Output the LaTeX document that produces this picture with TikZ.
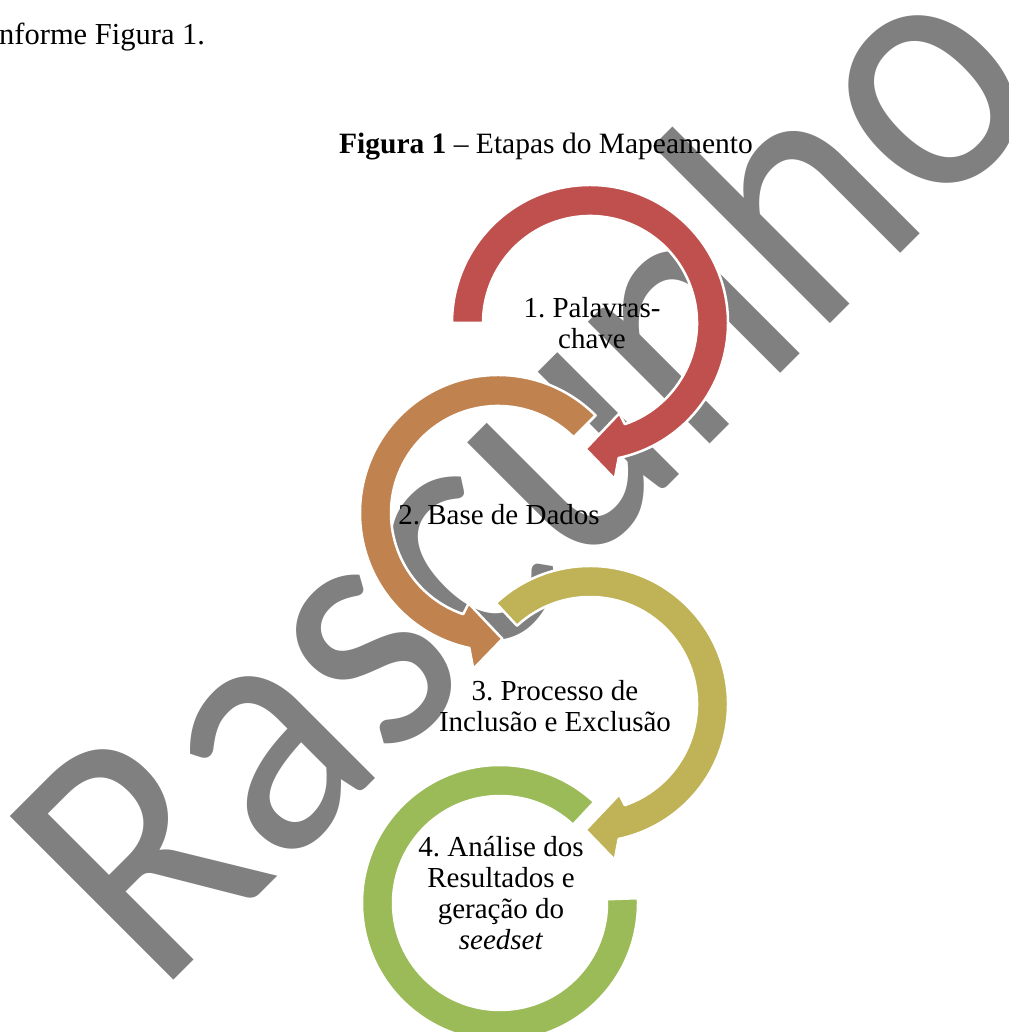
\documentclass[tikz,border=0pt]{standalone}
\usepackage{fontspec}
\setmainfont{Liberation Serif}
\newfontfamily\wmfont{Carlito}
\usetikzlibrary{calc}
\frenchspacing
\definecolor{wmgray}{RGB}{128,128,128}
\definecolor{cred}{RGB}{192,80,77}
\definecolor{corange}{RGB}{192,130,79}
\definecolor{colive}{RGB}{192,178,86}
\definecolor{cgreen}{RGB}{155,187,89}
\tikzset{
  arrowshape/.style={draw=white, line width=2.5pt, line join=round},
  wm/.style={font={\wmfont\fontsize{322pt}{322pt}\selectfont}, text=wmgray, rotate=45, yscale=1.12, anchor=base west, inner sep=0pt},
  lbl/.style={font={\fontsize{29pt}{31pt}\selectfont}, anchor=base, align=center, inner sep=0pt},
  bodytext/.style={font={\fontsize{30.5pt}{32pt}\selectfont}, anchor=base west, inner sep=0pt},
  captext/.style={font={\fontsize{29.5pt}{32pt}\selectfont}, anchor=base, inner sep=0pt}
}
% clockwise arrow: centre, start angle, colour
\newcommand\cwArrow[3]{%
  \fill[#3, arrowshape, shift={(#1)}] (#2:138pt) arc[start angle=#2, end angle=-78, radius=138pt]
    -- (-81:158pt) -- (-92:126pt) -- (-72:95pt) -- (-71:107pt)
    arc[start angle=-71, end angle=#2, radius=107pt] -- cycle;}
% counter-clockwise arrow: centre, start angle, colour
\newcommand\ccwArrow[3]{%
  \fill[#3, arrowshape, shift={(#1)}] (#2:138pt) arc[start angle=#2, end angle=258, radius=138pt]
    -- (261:158pt) -- (272:126pt) -- (252:95pt) -- (251:107pt)
    arc[start angle=251, end angle=#2, radius=107pt] -- cycle;}
\begin{document}
\begin{tikzpicture}[x=1pt,y=1pt]
\useasboundingbox (0,0) rectangle (1008,1032);
% watermark
\node[wm] (wm) at (157,35) {Rascunho};
% centres
\coordinate (c1) at (590,709);
\coordinate (c2) at (498,519);
\coordinate (c3) at (590,328);
\coordinate (c4) at (500,129);
% arrows
\cwArrow{c1}{180}{cred}
\ccwArrow{c2}{45}{corange}
\cwArrow{c3}{133}{colive}
\fill[cgreen, arrowshape, shift={(c4)}] (2:138pt) arc[start angle=2, end angle=-313, radius=138pt]
  -- (-313:107pt) arc[start angle=-313, end angle=2, radius=107pt] -- cycle;
% texts (base anchor = baseline of the last line)
\node[bodytext] (body) at (-1,987) {nforme Figura 1.};
\node[captext] (cap) at (546,878) {\textbf{Figura 1} – Etapas do Mapeamento};
\node[lbl] (t1) at (592,683) {1. Palavras-\\chave};
\node[lbl] (t2) at (499,507) {2. Base de Dados};
\node[lbl] (t3) at (555,300) {3. Processo de\\Inclusão e Exclusão};
\node[lbl] (t4) at (501,82) {4. Análise dos\\Resultados e\\geração do\\\textit{seedset}};
\end{tikzpicture}
\end{document}
